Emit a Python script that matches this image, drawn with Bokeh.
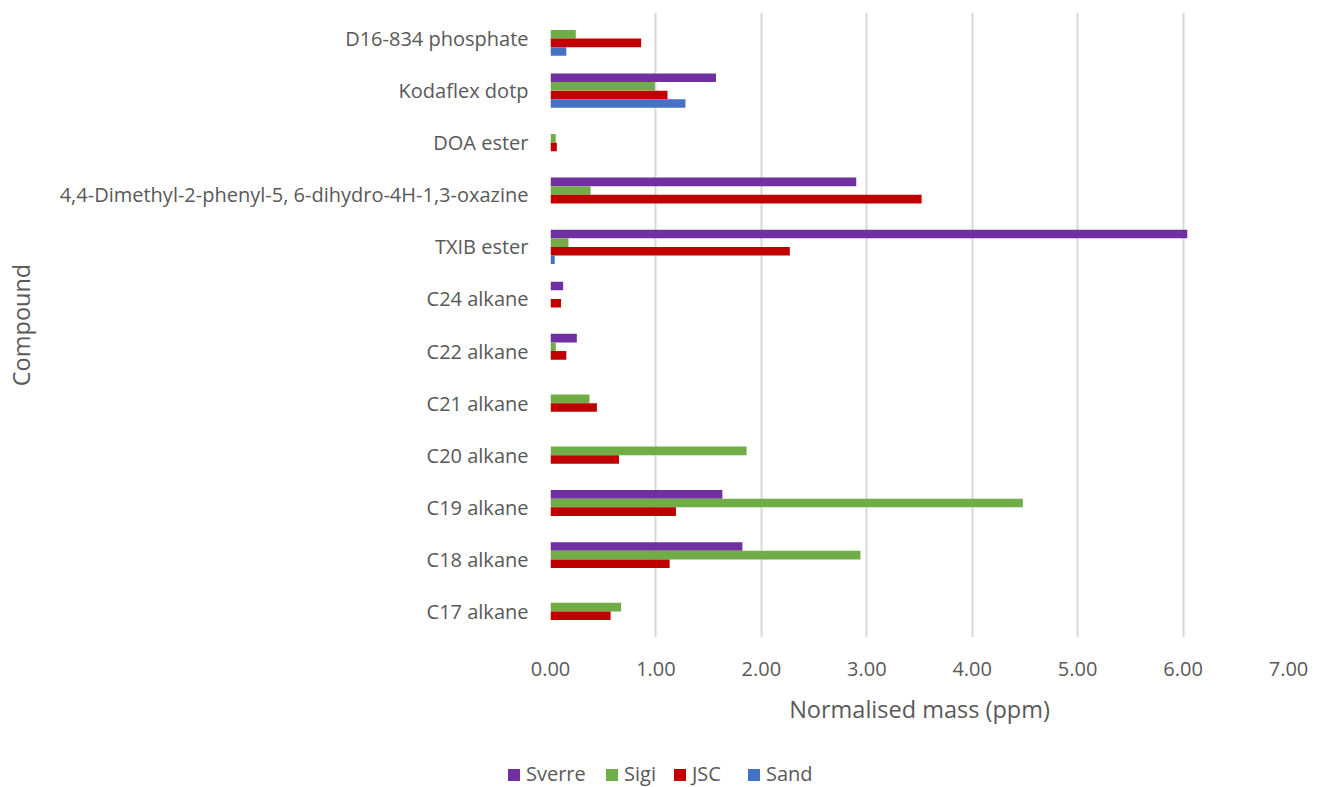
import math
from bokeh.plotting import figure
from bokeh.layouts import column
from bokeh.models import (FactorRange, Range1d, FixedTicker, NumeralTickFormatter,
                          ColumnDataSource, Div)
from bokeh.transform import dodge
from bokeh.embed import file_html
from bokeh.resources import INLINE

# ---- data (bottom to top) ----
compounds = [
    "C17 alkane",
    "C18 alkane",
    "C19 alkane",
    "C20 alkane",
    "C21 alkane",
    "C22 alkane",
    "C24 alkane",
    "TXIB ester",
    "4,4-Dimethyl-2-phenyl-5, 6-dihydro-4H-1,3-oxazine",
    "DOA ester",
    "Kodaflex dotp",
    "D16-834 phosphate",
]
sverre = [0.00, 1.82, 1.63, 0.00, 0.00, 0.25, 0.12, 6.04, 2.90, 0.00, 1.57, 0.00]
sigi   = [0.67, 2.94, 4.48, 1.86, 0.37, 0.05, 0.00, 0.17, 0.38, 0.05, 0.99, 0.24]
jsc    = [0.57, 1.13, 1.19, 0.65, 0.44, 0.15, 0.10, 2.27, 3.52, 0.06, 1.11, 0.86]
sand   = [0.00, 0.00, 0.00, 0.00, 0.00, 0.00, 0.00, 0.04, 0.00, 0.00, 1.28, 0.15]

series_names = ["Sverre", "Sigi", "JSC", "Sand"]
series_colors = ["#7030A0", "#70AD47", "#C00000", "#4472C4"]
x_ticks = [0, 1, 2, 3, 4, 5, 6, 7]
x_title = "Normalised mass (ppm)"
y_title = "Compound"

FONT = "Open Sans"
TXT = "#595959"

source = ColumnDataSource(dict(compound=compounds, Sverre=sverre, Sigi=sigi,
                               JSC=jsc, Sand=sand))

p = figure(width=1330, height=750,
           y_range=FactorRange(factors=compounds, range_padding=0, factor_padding=0),
           x_range=Range1d(0, 7),
           output_backend="svg", toolbar_location=None,
           min_border_left=550, min_border_right=42,
           min_border_top=12, min_border_bottom=113)
p.outline_line_color = None
p.background_fill_color = "white"
p.border_fill_color = "white"

bar_h = 0.165
offsets = [1.5 * bar_h, 0.5 * bar_h, -0.5 * bar_h, -1.5 * bar_h]
for name, col, off in zip(series_names, series_colors, offsets):
    p.hbar(y=dodge("compound", off, range=p.y_range), left=0, right=name,
           height=bar_h, source=source, fill_color=col, line_color=None)

# axes
p.xaxis.ticker = FixedTicker(ticks=x_ticks)
p.xaxis.formatter = NumeralTickFormatter(format="0.00")
for ax in (p.xaxis, p.yaxis):
    ax.axis_line_color = None
    ax.major_tick_line_color = None
    ax.minor_tick_line_color = None
    ax.major_label_text_font = FONT
    ax.major_label_text_font_size = "20px"
    ax.major_label_text_color = TXT
    ax.axis_label_text_font = FONT
    ax.axis_label_text_font_size = "23.5px"
    ax.axis_label_text_font_style = "normal"
    ax.axis_label_text_color = TXT
p.yaxis.major_label_standoff = 16
p.xaxis.major_label_standoff = 18
p.xaxis.axis_label = x_title
p.xaxis.axis_label_standoff = 14
p.yaxis.axis_label = y_title
p.yaxis.axis_label_standoff = 20

p.xgrid.grid_line_color = "#d9d9d9"
p.xgrid.grid_line_width = 2
p.ygrid.grid_line_color = None

# ---- legend strip below the chart ----
swatch_x = [508, 606, 674, 748]
label_x = [526, 624, 692, 766]
parts = []
for name, col, sx, lx in zip(series_names, series_colors, swatch_x, label_x):
    parts.append(
        f'<span style="position:absolute;left:{sx}px;top:19px;width:12px;height:12px;'
        f'background:{col};"></span>'
        f'<span style="position:absolute;left:{lx}px;top:10px;line-height:28px;'
        f'white-space:nowrap;">{name}</span>'
    )
html = (f'<div style="position:relative;width:1330px;height:37px;margin:0;padding:0;'
        f'font-family:\'{FONT}\';font-size:20px;color:{TXT};">' + "".join(parts) + '</div>')
legend_div = Div(text=html, width=1330, height=37, margin=0)

layout = column(p, legend_div, spacing=0)
open("out.html", "w").write(file_html(layout, INLINE))
